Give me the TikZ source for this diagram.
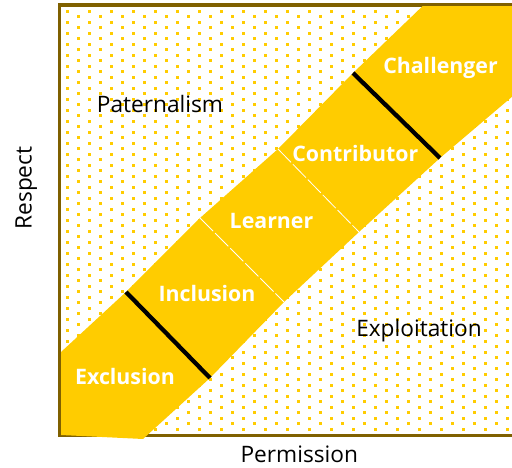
\documentclass[tikz,border=0pt]{standalone}
\usepackage{fontspec}
\setmainfont{Open Sans}
\usepackage{tikz}
\usetikzlibrary{calc}
\definecolor{bandyellow}{RGB}{255,204,0}
\definecolor{framebrown}{RGB}{127,96,0}
\tikzset{
  zonelabel/.style={font=\fontsize{17}{20}\selectfont, text=black, inner sep=0pt, anchor=base},
  bandlabel/.style={font=\bfseries\fontsize{16}{19}\selectfont, text=white, inner sep=0pt, anchor=base},
  stepline/.style={line width=3.2pt, black},
  seamline/.style={line width=0.6pt, white, dash pattern=on 14pt off 2pt},
}

\begin{document}
\begin{tikzpicture}[x=0.75pt,y=0.75pt]
\useasboundingbox (0,0) rectangle (512,468);
% dotted field
\begin{scope}
\clip (61,35) rectangle (512,461);
\foreach \j in {0,...,76}{
  \pgfmathsetmacro\dx{66.2+11*mod(\j,2)}
  \foreach \i in {0,...,20}
    \fill[bandyellow] ({\dx+22*\i},{455.2-5.5*\j}) rectangle +(3,3);
}
\end{scope}
% frame
\draw[framebrown, line width=2.5pt] (514,463) -- (59.7,463) -- (59.7,32.7) -- (514,32.7);
% band corners
\coordinate (u0) at (61,116);
\coordinate (u1) at (126,176);
\coordinate (u2) at (200,250);
\coordinate (u3) at (278,319);
\coordinate (u4) at (353,395);
\coordinate (l1) at (210,90);
\coordinate (l2) at (284,166);
\coordinate (l3) at (359,236);
\coordinate (l4) at (440,310);
\begin{scope}
\clip (61,0) rectangle (520,461.3);
\fill[bandyellow] (u0) -- (u1) -- (u2) -- (u3) -- (u4) -- (431,470) -- (520,470)
  -- (520,378) -- (l4) -- (l3) -- (l2) -- (l1) -- (143,29) -- (61,33) -- cycle;
\end{scope}
% dividers
\draw[stepline] (u1) -- (l1);
\draw[stepline] (u4) -- (l4);
\draw[seamline] (u2) -- (l2);
\draw[seamline] (u3) -- (l3);
% labels
\node[zonelabel] (paternalism) at (160,355.3) {Paternalism};
\node[zonelabel] (exploitation) at (419,131.3) {Exploitation};
\node[zonelabel] (permission) at (299.3,5.3) {Permission};
\node[zonelabel, rotate=90] (respect) at (31.7,280) {Respect};
\node[bandlabel] (exclusion) at (125,83) {Exclusion};
\node[bandlabel] (inclusion) at (207,166.3) {Inclusion};
\node[bandlabel] (learner) at (271.5,239.7) {Learner};
\node[bandlabel] (contributor) at (355.3,306.3) {Contributor};
\node[bandlabel] (challenger) at (440.5,394.7) {Challenger};
\end{tikzpicture}
\end{document}
